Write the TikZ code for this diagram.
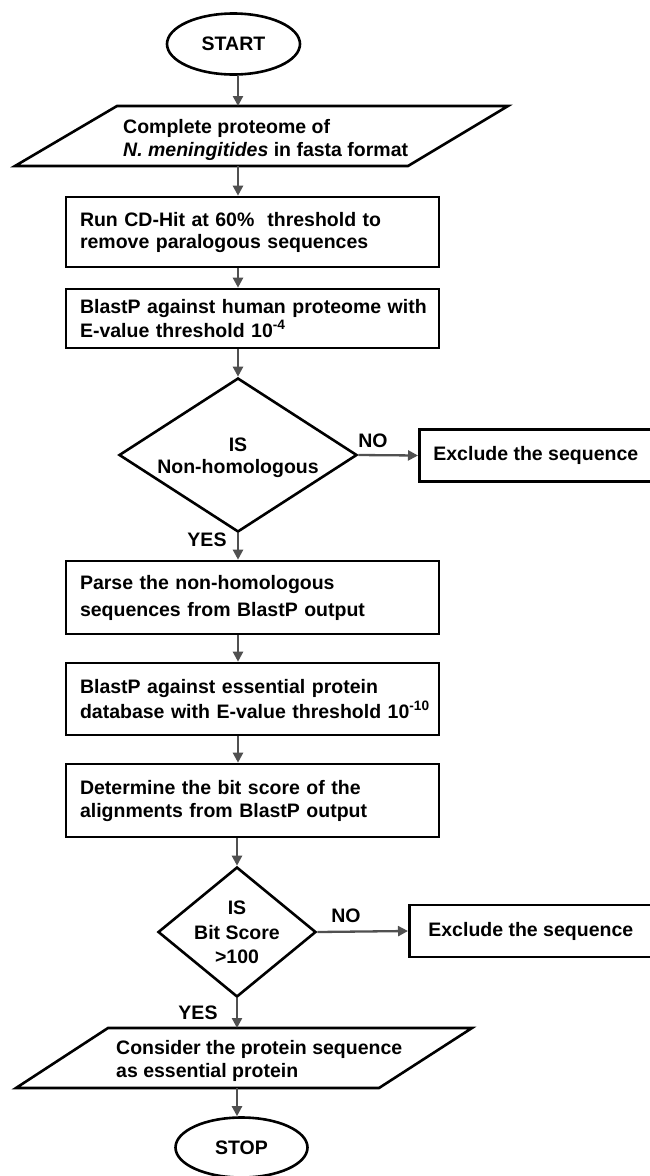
\documentclass[tikz,border=0pt]{standalone}
\usepackage{fontspec}
\setmainfont{Liberation Sans}
\usetikzlibrary{shapes.geometric,arrows.meta}
\definecolor{arrgray}{HTML}{505050}
\newcommand\oneline[1]{\mbox{#1}}
\begin{document}
\begin{tikzpicture}[x=1pt,y=-1pt,
  every node/.style={font=\fontsize{19.5}{23}\selectfont\bfseries},
  shp/.style={draw=black, line width=2.6pt, fill=white},
  txt/.style={inner sep=0pt, align=left},
  procbox/.style={shp, rectangle, inner xsep=14pt, inner ysep=0pt, text width=345pt, align=left, minimum width=373pt},
  exbox/.style={shp, rectangle, inner sep=0pt, anchor=west, minimum height=52pt},
  ioarea/.style={rectangle, draw=none, inner sep=0pt, outer sep=0pt, minimum height=60pt},
  term/.style={shp, ellipse, inner sep=0pt, minimum width=133pt, minimum height=61pt},
  decision/.style={shp, diamond, inner sep=0pt},
  conn/.style={draw=arrgray, line width=2.3pt, -{Triangle[length=10pt,width=10pt]}}
]
\useasboundingbox (0,0) rectangle (649,1176);
\coordinate (ax) at (238,0);

\node[term] (start) at (233.5,44) {START};

\node[ioarea, minimum width=493pt] (para1) at (261.5,136) {};
\draw[shp, line join=miter] ([xshift=102pt]para1.north west) -- (para1.north east) -- ([xshift=-100pt]para1.south east) -- (para1.south west) -- cycle;
\node[txt, anchor=west] (para1t) at (123,139.5) {Complete proteome of\\\textit{N. meningitides} in fasta format};

\node[procbox, minimum height=70pt] (b1) at (252.5,232) {\oneline{Run CD-Hit at 60\%\ \ threshold to}\\[-1pt]\oneline{remove paralogous sequences}};
\node[procbox, minimum height=59pt] (b2) at (252.5,318.5) {\oneline{BlastP against human proteome with}\\[1pt]\oneline{E-value threshold 10\textsuperscript{-4}}};

\node[decision, minimum width=238pt, minimum height=154pt] (d1) at (238,455) {};
\node[txt, align=center] (d1t) at (238,458) {IS\\[-1pt]Non-homologous};
\node[exbox, minimum width=233pt] (ex1) at (418,455.5) {Exclude the sequence};
\node[txt] (no1) at (373,441) {NO};
\node[txt] (yes1) at (207,540) {YES};

\node[procbox, minimum height=73pt] (b3) at (252.5,597.5) {\oneline{Parse the non-homologous}\\[4pt]\oneline{sequences from BlastP output}};
\node[procbox, minimum height=72pt] (b4) at (252.5,699) {\oneline{BlastP against essential protein}\\[2pt]\oneline{database with E-value threshold 10\textsuperscript{-10}}};
\node[procbox, minimum height=73pt] (b5) at (252.5,800.5) {\oneline{Determine the bit score of the}\\\oneline{alignments from BlastP output}};

\node[decision, minimum width=158pt, minimum height=130pt] (d2) at (237,932) {};
\node[txt, align=center] (d2t) at (237,932.5) {IS\\[1.5pt]Bit Score\\[1.5pt]>100};
\node[exbox, minimum width=243pt] (ex2) at (408,931) {Exclude the sequence};
\node[txt] (no2) at (346,916) {NO};
\node[txt] (yes2) at (198,1013) {YES};

\node[ioarea, minimum width=456pt] (para2) at (244,1058) {};
\draw[shp, line join=miter] ([xshift=92pt]para2.north west) -- (para2.north east) -- ([xshift=-93pt]para2.south east) -- (para2.south west) -- cycle;
\node[txt, anchor=west] (para2t) at (116,1060.5) {Consider the protein sequence\\as essential protein};

\node[term, minimum width=132pt, minimum height=60pt] (stop) at (241.5,1147.5) {STOP};

\draw[conn] (start.south -| ax) -- (para1.north -| ax);
\draw[conn] (para1.south -| ax) -- (b1.north -| ax);
\draw[conn] (b1.south -| ax) -- (b2.north -| ax);
\draw[conn] (b2.south -| ax) -- (d1.north);
\draw[conn] (d1.east) -- (ex1.west);
\draw[conn] (d1.south) -- (b3.north -| d1.south);
\draw[conn] (b3.south -| ax) -- (b4.north -| ax);
\draw[conn] (b4.south -| ax) -- (b5.north -| ax);
\draw[conn] (b5.south -| d2.north) -- (d2.north);
\draw[conn] (d2.east) -- (ex2.west);
\draw[conn] (d2.south) -- (para2.north -| d2.south);
\draw[conn] (para2.south -| d2.south) -- (stop.north -| d2.south);
\end{tikzpicture}
\end{document}
